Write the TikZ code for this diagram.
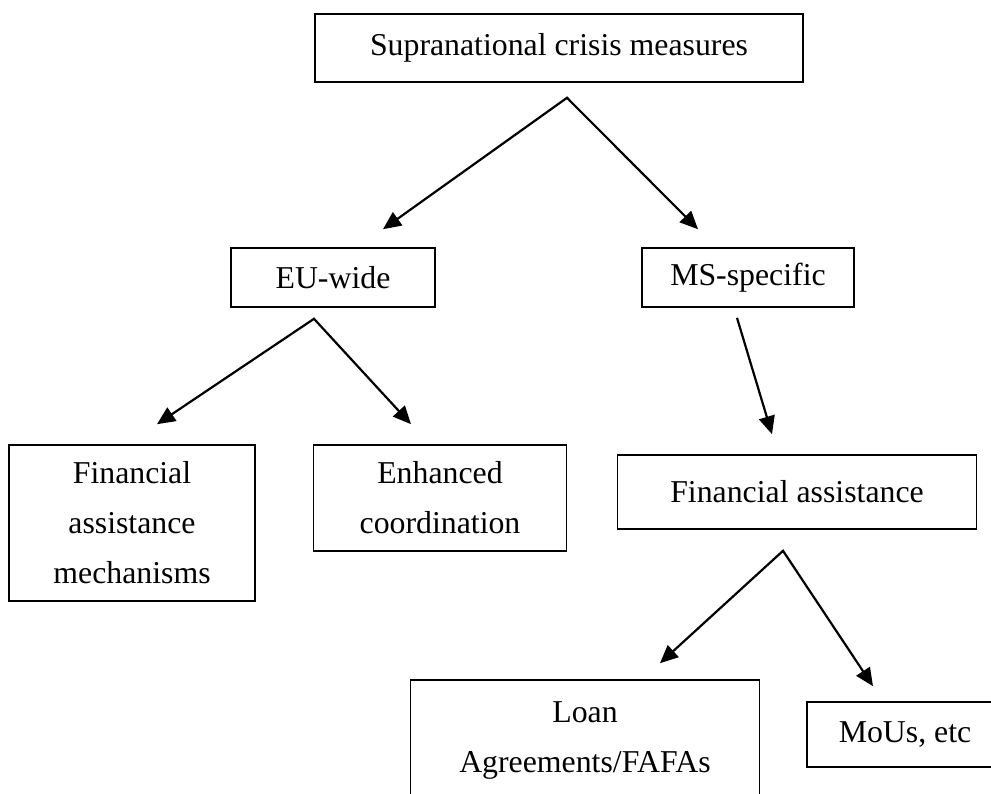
\documentclass[tikz,border=0pt]{standalone}
\usepackage{fontspec}
\setmainfont{Liberation Serif}
\usepackage{xcolor}
\usepackage{tikz}
\usetikzlibrary{arrows.meta,positioning}
\definecolor{chartink}{HTML}{000000}

\begin{document}
\begin{tikzpicture}[x=1pt,y=-1pt,
  >={Triangle[length=18pt,width=16pt]},
  box/.style={draw=chartink,line width=1.6pt,align=center,inner sep=0pt,
    text=chartink,font=\fontsize{31.8}{50}\selectfont},
  link/.style={draw=chartink,line width=2.2pt}
]
  \useasboundingbox (0,0) rectangle (991,793);
  \node[box,minimum width=488pt,minimum height=68pt] (crisis) at (559,48) {Supranational crisis measures};
  \node[box,minimum width=204pt,minimum height=59pt] (euwide) at (333,277.5) {EU-wide};
  \node[box,minimum width=212pt,minimum height=59pt] (msspec) at (748,277.5) {MS-specific};
  \node[box,minimum width=246pt,minimum height=156pt] (fammech) at (132,523) {Financial\\assistance\\mechanisms};
  \node[box,minimum width=253pt,minimum height=106pt] (enhanced) at (440,498) {Enhanced\\coordination};
  \node[box,minimum width=359pt,minimum height=74pt] (finassist) at (797,492) {Financial assistance};
  \node[box,minimum width=349pt,minimum height=122pt] (loan) at (585,741) {Loan\\Agreements/FAFAs};
  \node[box,minimum width=196pt,minimum height=65pt] (mous) at (905,734.5) {MoUs, etc};

  \coordinate (crisisfork) at ([xshift=8pt,yshift=-15pt]crisis.south);
  \coordinate (eufork) at ([xshift=-19pt,yshift=-11pt]euwide.south);
  \coordinate (fafork) at ([xshift=-14pt,yshift=-21pt]finassist.south);

  \draw[link,<->] ([xshift=50pt,yshift=18pt]euwide.north) -- (crisisfork)
    -- ([xshift=-50pt,yshift=18pt]msspec.north);
  \draw[link,<->] ([xshift=25pt,yshift=20pt]fammech.north) -- (eufork)
    -- ([xshift=-29pt,yshift=20pt]enhanced.north);
  \draw[link,->] ([xshift=-11pt,yshift=-10pt]msspec.south)
    -- ([xshift=-25pt,yshift=20pt]finassist.north);
  \draw[link,<->] ([xshift=75pt,yshift=16pt]loan.north) -- (fafork)
    -- ([xshift=-32pt,yshift=15pt]mous.north);
\end{tikzpicture}
\end{document}
